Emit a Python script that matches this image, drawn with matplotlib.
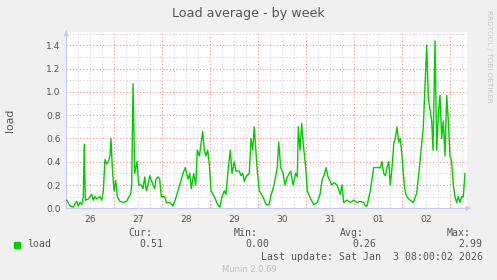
import matplotlib
matplotlib.use("Agg")
import matplotlib.pyplot as plt
from matplotlib.patches import Rectangle
import numpy as np

# hours since 26 Dec 00:00 and load values
hours = [0.2, 1.85, 3.5, 4.35, 5.2, 6.0, 6.85, 7.7, 8.5, 9.0, 9.5, 11.0, 12.7, 13.5,
         14.35, 15.2, 16.85, 17.7, 18.5, 19.35, 20.2, 21.0, 21.85, 22.35, 23.0, 23.85,
         24.7, 25.5, 26.85, 28.5, 30.2, 31.35, 32.2, 32.7, 33.35, 34.2, 35.35, 36.2,
         37.5, 38.35, 39.2, 40.0, 40.85, 41.7, 43.35, 44.2, 44.85, 45.85, 46.7, 47.5,
         49.2, 50.0, 51.7, 53.35, 55.0, 56.7, 58.35, 59.5, 60.85, 61.7, 62.5, 63.7,
         64.7, 65.5, 66.5, 67.35, 68.2, 69.0, 69.85, 70.7, 71.5, 72.35, 74.0, 75.7,
         76.85, 77.85, 79.0, 79.85, 81.0, 82.0, 82.85, 84.0, 84.85, 86.5, 87.35, 88.2,
         89.0, 89.85, 91.5, 92.35, 93.2, 94.0, 95.35, 96.5, 98.2, 99.5, 100.1, 101.35,
         102.2, 103.85, 105.5, 106.2, 107.2, 108.35, 109.35, 110.5, 112.2, 113.35,
         114.7, 115.5, 116.0, 116.85, 117.7, 118.5, 119.7, 120.5, 122.2, 123.85, 125.5,
         126.85, 128.0, 129.2, 129.85, 130.85, 132.2, 132.85, 133.85, 135.35, 137.0,
         137.85, 138.7, 140.35, 142.0, 143.7, 145.35, 147.0, 148.7, 149.5, 150.35,
         152.0, 153.7, 155.35, 157.0, 157.85, 158.7, 159.5, 160.35, 161.2, 162.0,
         162.85, 163.7, 164.5, 165.35, 166.2, 167.0, 167.85, 168.5, 169.35, 170.2,
         171.85, 173.5, 175.2, 176.85, 178.5, 179.35, 180.2, 181.0, 181.85, 182.7,
         183.35, 184.35, 185.2, 186.0, 186.85, 187.7, 188.5, 189.35, 190.2, 191.0,
         191.85, 192.7, 193.5, 194.35, 195.2, 196.0, 196.85, 197.7, 198.5, 199.35]
load = [0.07, 0.02, 0.01, 0.04, 0.06, 0.02, 0.05, 0.03, 0.10, 0.55, 0.07, 0.08, 0.12, 0.07,
        0.10, 0.08, 0.10, 0.07, 0.15, 0.42, 0.38, 0.40, 0.45, 0.60, 0.35, 0.15,
        0.24, 0.10, 0.06, 0.05, 0.06, 0.10, 0.12, 0.20, 1.07, 0.30, 0.40, 0.20,
        0.20, 0.17, 0.27, 0.15, 0.20, 0.28, 0.20, 0.17, 0.25, 0.27, 0.25, 0.10,
        0.10, 0.05, 0.05, 0.02, 0.10, 0.20, 0.30, 0.35, 0.25, 0.30, 0.17, 0.30,
        0.20, 0.50, 0.45, 0.55, 0.66, 0.50, 0.45, 0.50, 0.38, 0.15, 0.10, 0.03,
        0.01, 0.10, 0.15, 0.12, 0.35, 0.50, 0.30, 0.40, 0.32, 0.32, 0.28, 0.30,
        0.23, 0.27, 0.30, 0.60, 0.50, 0.70, 0.35, 0.15, 0.10, 0.05, 0.03, 0.03,
        0.10, 0.20, 0.35, 0.57, 0.35, 0.30, 0.20, 0.27, 0.32, 0.20,
        0.30, 0.27, 0.70, 0.50, 0.73, 0.55, 0.35, 0.15, 0.08, 0.03, 0.05,
        0.12, 0.25, 0.30, 0.35, 0.27, 0.22, 0.20, 0.22, 0.20, 0.12,
        0.20, 0.05, 0.07, 0.05, 0.07, 0.05, 0.06, 0.05, 0.02, 0.02,
        0.15, 0.35, 0.35, 0.35, 0.40, 0.30, 0.28, 0.35, 0.40, 0.20,
        0.35, 0.55, 0.60, 0.70, 0.57, 0.60, 0.45, 0.30, 0.15, 0.10,
        0.07, 0.05, 0.13, 0.40, 0.70, 1.05, 1.40, 0.95, 0.85, 0.75,
        0.50, 1.44, 0.50, 0.80, 0.97, 0.60, 0.75, 0.45, 0.97, 0.75,
        0.45, 0.40, 0.20, 0.10, 0.05, 0.10, 0.05, 0.10, 0.10, 0.30]

day_labels = ["26", "27", "28", "29", "30", "31", "01", "02"]
y_ticks = [0.0, 0.2, 0.4, 0.6, 0.8, 1.0, 1.2, 1.4]

legend_cur, legend_min, legend_avg, legend_max = "0.51", "0.00", "0.26", "2.99"
last_update = "Last update: Sat Jan  3 08:00:02 2026"

W, H = 497, 280
TXT = "#555555"
GREEN = "#00CC00"
AXC = "#C8C8F4"

fig = plt.figure(figsize=(W / 100, H / 100), dpi=100, facecolor="#F0F0F0")


def px(x, y):
    return x / W, 1 - y / H


left, right, top, bottom = 66.3, 466.7, 32.3, 208.3
ax = fig.add_axes([left / W, 1 - bottom / H, (right - left) / W, (bottom - top) / H])
ax.set_facecolor("white")
ax.set_xlim(0, (right - left) / 2.0)
ax.set_ylim(0, (bottom - top) / 116.4)

# grid: gray every 6 h / 0.1, red at midnight / 0.2
dot = (0, (1, 2))
for h in np.arange(6, 201, 6):
    c = "#FF8A8A" if h % 24 == 0 else "#D2D2D2"
    ax.axvline(h, color=c, lw=0.8, ls=dot, zorder=1)
for k in range(1, 16):
    c = "#FF8A8A" if k % 2 == 0 else "#D2D2D2"
    ax.axhline(k / 10, color=c, lw=0.8, ls=dot, zorder=1)

ax.plot(hours, load, color=GREEN, lw=1.0, zorder=3)

for s in ["top", "right"]:
    ax.spines[s].set_visible(False)
for s in ["bottom", "left"]:
    ax.spines[s].set_color(AXC)
    ax.spines[s].set_linewidth(0.8)

ax.set_xticks([12 + 24 * i for i in range(len(day_labels))], day_labels)
ax.set_yticks(y_ticks, [f"{v:.1f}" for v in y_ticks])
ax.tick_params(axis="both", length=0, labelsize=6.6, colors=TXT, pad=4)
ax.tick_params(axis="x", pad=5)

ax.annotate("", xy=(1.018, 0), xytext=(0.99, 0), xycoords="axes fraction",
            arrowprops=dict(arrowstyle="-|>", color=AXC, lw=0.8, mutation_scale=7))
ax.annotate("", xy=(0, 1.025), xytext=(0, 0.99), xycoords="axes fraction",
            arrowprops=dict(arrowstyle="-|>", color=AXC, lw=0.8, mutation_scale=7))

fig.text(*px(248, 13.5), "Load average - by week", ha="center", va="center",
         fontsize=9.2, color=TXT)
fig.text(*px(10, 120), "load", ha="center", va="center", rotation=90,
         fontsize=7.8, color=TXT)
fig.text(*px(489, 56), "RRDTOOL / TOBI OETIKER", ha="center", va="center",
         rotation=270, fontsize=5.2, color="#C8C8C8")

mono = dict(family="DejaVu Sans Mono", fontsize=7.1, color=TXT, va="center")
fig.patches.append(Rectangle(px(14, 247.5), 6 / W, 6 / H, transform=fig.transFigure,
                             color=GREEN, figure=fig))
fig.text(*px(27, 244), "load", ha="left", **mono)
for lab, xl, val, xr in [("Cur:", 128, legend_cur, 163.3), ("Min:", 234, legend_min, 269.3),
                         ("Avg:", 340, legend_avg, 376), ("Max:", 447, legend_max, 482.7)]:
    fig.text(*px(xl, 232.5), lab, ha="left", **mono)
    fig.text(*px(xr, 244.3), val, ha="right", **mono)
fig.text(*px(482.7, 256.7), last_update, ha="right", **mono)
fig.text(*px(249, 269.5), "Munin 2.0.69", ha="center", va="center",
         fontsize=6, color="#BDBDBD")

fig.savefig("out.png", dpi=100, facecolor=fig.get_facecolor())
